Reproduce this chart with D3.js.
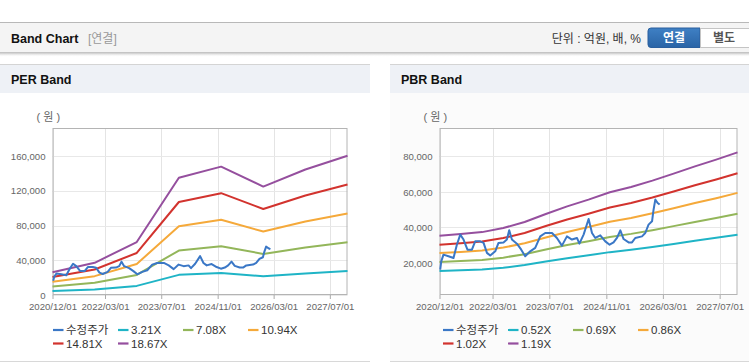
<!DOCTYPE html>
<html><head><meta charset="utf-8">
<script src="https://cdn.jsdelivr.net/npm/d3@7"></script>
<style>
html,body{margin:0;padding:0;background:#fff;}
svg{display:block;}
text{font-family:'Liberation Sans','Noto Sans CJK KR',sans-serif;}
</style></head><body>
<svg id="c" width="749" height="364"></svg>
<script>
// ---------- DATA ----------
const tickDates = ["2020-12-01","2022-03-01","2023-07-01","2024-11-01","2026-03-01","2027-07-01"];
const domainDates = ["2020-12-01","2027-12-01"];

const priceDates = ["2020-12-07","2020-12-16","2021-01-04","2021-02-16","2021-03-31","2021-04-29","2021-05-28","2021-06-25","2021-07-29","2021-09-05","2021-10-03","2021-11-15","2021-12-14","2022-01-12","2022-02-09","2022-03-24","2022-04-21","2022-06-03","2022-07-02","2022-07-22","2022-08-14","2022-09-26","2022-11-02","2022-12-06","2023-01-18","2023-03-02","2023-04-14","2023-05-27","2023-07-24","2023-09-04","2023-10-17","2023-11-29","2024-01-11","2024-02-23","2024-03-15","2024-04-20","2024-06-02","2024-07-01","2024-07-29","2024-09-10","2024-10-23","2024-11-29","2025-01-02","2025-01-31","2025-03-01","2025-03-29","2025-05-11","2025-06-09","2025-07-07","2025-09-03","2025-10-01","2025-10-29","2025-11-28","2025-12-11","2025-12-26","2026-01-15","2026-02-01"];
const priceValues = [16300,20900,24700,23800,22800,30300,36000,33200,27500,27500,32200,32200,31300,25700,24200,26600,31300,31600,33200,38400,33200,30900,27500,23800,26600,28500,35000,36900,36900,34100,29800,35000,33200,34100,30900,36000,44800,36900,34100,35600,32200,30300,31600,34100,38400,33500,31600,31600,34100,35000,36900,41600,43500,50000,55700,53800,52900];

const perDates = ["2020-12-01","2021-12-01","2022-12-01","2023-12-01","2024-12-01","2025-12-01","2026-12-01","2027-12-01"];
const per321  = [4490, 6370, 10490, 23210, 25410, 21460, 24850, 27560];
const per708  = [9910, 14050, 23130, 51200, 56050, 47330, 54800, 60790];
const per1094 = [15320, 21720, 35740, 79110, 86610, 73130, 84680, 93930];
const per1481 = [20730, 29400, 48380, 107090, 117250, 99010, 114630, 127160];
const per1867 = [26140, 37060, 61000, 135000, 147810, 124810, 144510, 160300];

const pbrDates = ["2020-12-01","2021-06-01","2021-12-01","2022-06-01","2022-12-01","2023-06-01","2023-12-01","2024-06-01","2024-12-01","2025-06-01","2025-12-01","2026-06-01","2026-12-01","2027-06-01","2027-12-01"];
const pbr052 = [15470,15880,16340,17350,18830,20800,22680,24340,26130,27440,29020,30720,32510,34170,35960];
const pbr069 = [20530,21080,21690,23020,24990,27600,30090,32300,34670,36410,38500,40760,43140,45340,47720];
const pbr086 = [25580,26270,27030,28690,31150,34400,37510,40250,43220,45390,47990,50810,53770,56510,59480];
const pbr102 = [30340,31160,32060,34030,36940,40800,44490,47740,51260,53830,56910,60260,63770,67030,70540];
const pbr119 = [35400,36350,37400,39700,43100,47600,51900,55700,59800,62800,66400,70300,74400,78200,82300];

const perLabels = ["수정주가","3.21X","7.08X","10.94X","14.81X","18.67X"];
const pbrLabels = ["수정주가","0.52X","0.69X","0.86X","1.02X","1.19X"];
const perTicks = [0,40000,80000,120000,160000];
const pbrTicks = [20000,40000,60000,80000];
const colors = ["#3a77c6","#1fb4c6","#93b65a","#f5a93a","#d2332e","#954f9e"];

// ---------- DRAW ----------
const parse = d3.timeParse("%Y-%m-%d");
const fmtDate = d3.timeFormat("%Y/%m/%d");
const fmtNum = d3.format(",");
const svg = d3.select("#c");

// page header bar
const defs = svg.append("defs");
const sh = defs.append("linearGradient").attr("id","shadow").attr("x1",0).attr("x2",0).attr("y1",0).attr("y2",1);
sh.append("stop").attr("offset","0").attr("stop-color","#bbb").attr("stop-opacity",0.8);
sh.append("stop").attr("offset","1").attr("stop-color","#fff").attr("stop-opacity",0);
const bg = defs.append("linearGradient").attr("id","btn").attr("x1",0).attr("x2",0).attr("y1",0).attr("y2",1);
bg.append("stop").attr("offset","0").attr("stop-color","#3f80c4");
bg.append("stop").attr("offset","1").attr("stop-color","#2a64a6");

svg.append("rect").attr("x",0).attr("y",22).attr("width",749).attr("height",31).attr("fill","#f4f4f4");
svg.append("line").attr("x1",0).attr("x2",749).attr("y1",22.5).attr("y2",22.5).attr("stroke","#b8b8b8");
svg.append("line").attr("x1",0).attr("x2",749).attr("y1",52.5).attr("y2",52.5).attr("stroke","#c4c4c4");
svg.append("rect").attr("x",0).attr("y",53).attr("width",749).attr("height",4).attr("fill","url(#shadow)");
svg.append("text").attr("x",11).attr("y",42.5).attr("font-size",12.5).attr("font-weight","bold").attr("fill","#111").text("Band Chart");
svg.append("text").attr("x",88).attr("y",42.5).attr("font-size",12).attr("fill","#999").text("[연결]");
svg.append("text").attr("x",641).attr("y",42.5).attr("text-anchor","end").attr("font-size",12).attr("fill","#333").text("단위 : 억원, 배, %");
svg.append("path").attr("d","M700,28 H651 Q648,28 648,31 V44.5 Q648,47.5 651,47.5 H700 Z").attr("fill","url(#btn)").attr("stroke","#2a5f9e");
svg.append("text").attr("x",674).attr("y",42).attr("text-anchor","middle").attr("font-size",12).attr("font-weight","bold").attr("fill","#fff").text("연결");
svg.append("rect").attr("x",700.5).attr("y",28.5).attr("width",49).attr("height",19).attr("fill","#fff").attr("stroke","#c4c4c4");
svg.append("text").attr("x",724).attr("y",42).attr("text-anchor","middle").attr("font-size",12).attr("font-weight","bold").attr("fill","#555").text("별도");

function drawPanel(cfg){
  const g = svg.append("g");
  // panel frame
  g.append("rect").attr("x",cfg.px).attr("y",64).attr("width",cfg.pw).attr("height",298).attr("fill",cfg.body);
  g.append("rect").attr("x",cfg.px).attr("y",64).attr("width",cfg.pw).attr("height",29).attr("fill","#eef1f6");
  g.append("line").attr("x1",cfg.px).attr("x2",cfg.px+cfg.pw).attr("y1",64.5).attr("y2",64.5).attr("stroke","#d4d4d4");
  g.append("line").attr("x1",cfg.px).attr("x2",cfg.px+cfg.pw).attr("y1",361.5).attr("y2",361.5).attr("stroke","#d8d8d8");
  g.append("text").attr("x",cfg.px+11).attr("y",84).attr("font-size",12.5).attr("font-weight","bold").attr("fill","#111").text(cfg.title);

  const L = cfg.left, R = cfg.right, T = 128, B = 295;
  const x = d3.scaleTime().domain(domainDates.map(parse)).range([L,R]);
  const y = d3.scaleLinear().domain(cfg.ydom).range([B,T]);
  g.append("rect").attr("x",L).attr("y",T).attr("width",R-L).attr("height",B-T).attr("fill","#fff");

  // grid
  const tks = tickDates.map(parse);
  g.append("g").selectAll("line").data(tks).join("line")
    .attr("x1",d=>Math.round(x(d))+0.5).attr("x2",d=>Math.round(x(d))+0.5)
    .attr("y1",T).attr("y2",B).attr("stroke","#e4e4e4");
  g.append("g").selectAll("line").data(cfg.yticks).join("line")
    .attr("x1",L).attr("x2",R).attr("y1",d=>Math.round(y(d))+0.5).attr("y2",d=>Math.round(y(d))+0.5).attr("stroke","#e8e8e8");

  // axes
  const xa = g.append("g").attr("transform",`translate(0,${B})`)
    .call(d3.axisBottom(x).tickValues(tks).tickFormat(fmtDate).tickSize(4).tickPadding(4));
  xa.select(".domain").remove();
  xa.selectAll("line").attr("stroke","#aaa");
  xa.selectAll("text").attr("font-size",9.6).attr("fill","#666").attr("font-family","'Liberation Sans','Noto Sans CJK KR',sans-serif");
  const ya = g.append("g").attr("transform",`translate(${L},0)`)
    .call(d3.axisLeft(y).tickValues(cfg.yticks).tickFormat(fmtNum).tickSize(0).tickPadding(7));
  ya.select(".domain").remove();
  ya.selectAll("text").attr("font-size",9.6).attr("fill","#666").attr("font-family","'Liberation Sans','Noto Sans CJK KR',sans-serif");
  g.append("rect").attr("x",L+0.5).attr("y",T+0.5).attr("width",R-L-1).attr("height",B-T-1)
    .attr("fill","none").attr("stroke","#b4b4b4");
  g.append("text").attr("x",L-16).attr("y",121).attr("font-size",11).attr("fill","#666").text("( 원 )");

  // series
  const line = d3.line().x(d=>x(d[0])).y(d=>y(d[1]));
  const bd = cfg.bandDates.map(parse);
  cfg.bands.forEach((arr,i)=>{
    g.append("path").datum(arr.map((v,j)=>[bd[j],v])).attr("d",line)
      .attr("fill","none").attr("stroke",colors[i+1]).attr("stroke-width",2).attr("stroke-linejoin","round");
  });
  const pd = priceDates.map(parse);
  g.append("path").datum(priceValues.map((v,j)=>[pd[j],v])).attr("d",line)
    .attr("fill","none").attr("stroke",colors[0]).attr("stroke-width",2).attr("stroke-linejoin","round");

  // legend
  cfg.labels.forEach((lab,i)=>{
    const col = i%4, row = Math.floor(i/4);
    const lx = cfg.legX + col*65, ly = 330 + row*13.5;
    g.append("line").attr("x1",lx).attr("x2",lx+10.5).attr("y1",ly).attr("y2",ly)
      .attr("stroke",colors[i]).attr("stroke-width",2.2);
    g.append("text").attr("x",lx+13).attr("y",ly+4.2).attr("font-size",11.5).attr("fill","#333").text(lab);
  });
}

drawPanel({title:"PER Band",px:0,pw:370,body:"#fff",left:52.5,right:347.5,ydom:[0,192300],yticks:perTicks,
  bandDates:perDates,bands:[per321,per708,per1094,per1481,per1867],labels:perLabels,legX:53});
drawPanel({title:"PBR Band",px:390,pw:359,body:"#fbfbfb",left:439.5,right:737.5,ydom:[2000,96000],yticks:pbrTicks,
  bandDates:pbrDates,bands:[pbr052,pbr069,pbr086,pbr102,pbr119],labels:pbrLabels,legX:443});
</script>
</body></html>
